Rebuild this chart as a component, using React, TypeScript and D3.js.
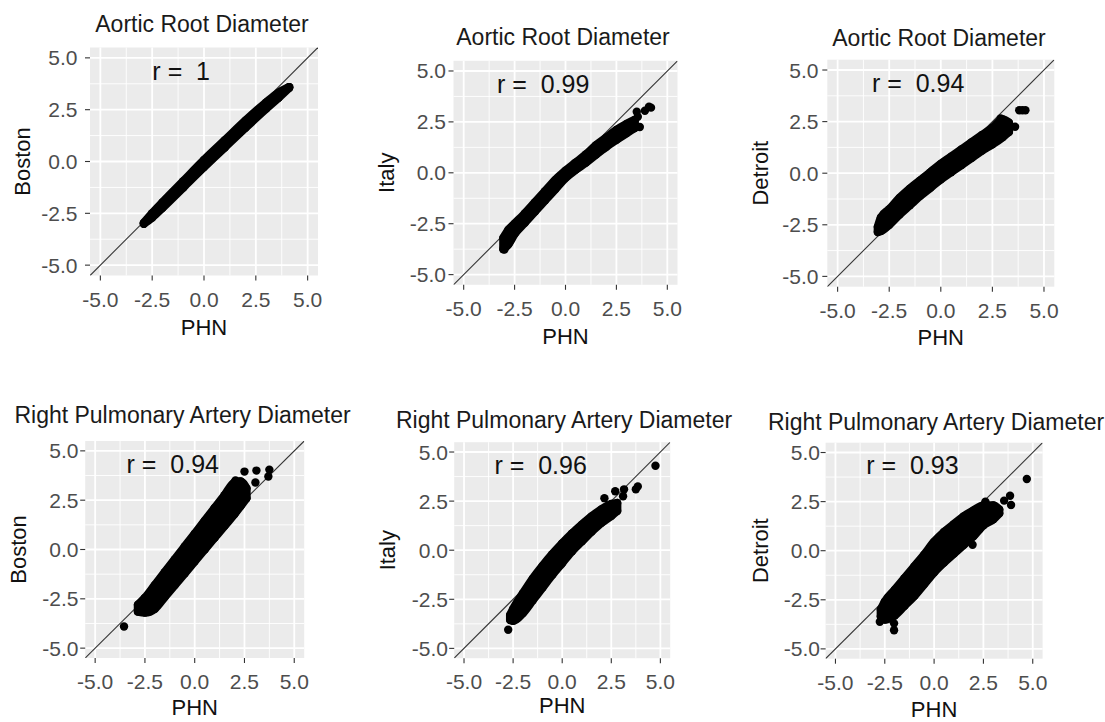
import React from 'react';
import * as d3 from 'd3';

// ---- chart values ----
const panelTitles = [
  'Aortic Root Diameter', 'Aortic Root Diameter', 'Aortic Root Diameter',
  'Right Pulmonary Artery Diameter', 'Right Pulmonary Artery Diameter', 'Right Pulmonary Artery Diameter',
];
const yTitles = ['Boston', 'Italy', 'Detroit', 'Boston', 'Italy', 'Detroit'];
const xTitle = 'PHN';
const rValues = ['1', '0.99', '0.94', '0.94', '0.96', '0.93'];
const majorTicks = [-5, -2.5, 0, 2.5, 5];
const minorTicks = [-3.75, -1.25, 1.25, 3.75];
const tickLabels = ['-5.0', '-2.5', '0.0', '2.5', '5.0'];

// dense part of each cloud: [PHN, lowest point, highest point]
const aorticBostonBand = [
  [-2.9, -3.0, -2.96], [-2.5, -2.7, -2.5], [-2, -2.23, -1.97], [-1, -1.25, -0.95], [0, -0.27, 0.07],
  [1, 0.68, 1.02], [2, 1.63, 1.97], [3, 2.55, 2.85], [3.6, 3.08, 3.32], [4.1, 3.55, 3.59],
];
const aorticItalyBand = [
  [-3.05, -3.75, -3.2], [-2.8, -3.5, -2.8], [-2.5, -3.0, -2.5], [-2, -2.45, -2.0], [-1.5, -1.9, -1.45],
  [-1, -1.35, -0.9], [-0.5, -0.8, -0.35], [0, -0.25, 0.1], [0.5, 0.15, 0.5], [1, 0.5, 0.9],
  [1.5, 0.9, 1.35], [2, 1.28, 1.72], [2.5, 1.62, 2.1], [3, 1.95, 2.4], [3.4, 2.2, 2.6],
];
const aorticDetroitBand = [
  [-3.05, -2.85, -2.6], [-2.9, -2.8, -2.15], [-2.5, -2.5, -1.75], [-2, -2.0, -1.2], [-1.5, -1.55, -0.75],
  [-1, -1.1, -0.35], [-0.5, -0.7, 0.05], [0, -0.3, 0.45], [0.5, 0.05, 0.8], [1, 0.4, 1.15],
  [1.5, 0.75, 1.5], [2, 1.1, 1.85], [2.5, 1.4, 2.2], [3, 1.75, 2.6], [3.3, 2.0, 2.45],
];
const rpaBostonBand = [
  [-2.85, -3.15, -2.8], [-2.5, -3.2, -2.45], [-2, -3.0, -1.8], [-1.5, -2.4, -1.15], [-1, -1.8, -0.5],
  [-0.5, -1.2, 0.15], [0, -0.6, 0.8], [0.5, 0.0, 1.45], [1, 0.6, 2.1], [1.5, 1.2, 2.75],
  [2, 1.8, 3.4], [2.3, 2.2, 3.45], [2.6, 2.6, 3.1],
];
const rpaItalyBand = [
  [-2.65, -3.55, -3.3], [-2.5, -3.6, -3.0], [-2, -3.2, -2.2], [-1.5, -2.55, -1.45], [-1, -1.9, -0.8],
  [-0.5, -1.25, -0.2], [0, -0.65, 0.35], [0.5, -0.05, 0.85], [1, 0.45, 1.3], [1.5, 0.95, 1.72],
  [2, 1.4, 2.08], [2.5, 1.75, 2.35], [2.8, 2.0, 2.4],
];
const rpaDetroitBand = [
  [-2.7, -3.35, -3.0], [-2.5, -3.5, -2.6], [-2, -3.3, -2.0], [-1.5, -2.8, -1.4], [-1, -2.3, -0.8],
  [-0.5, -1.7, -0.2], [0, -1.1, 0.45], [0.5, -0.6, 0.95], [1, -0.15, 1.35], [1.5, 0.3, 1.75],
  [2, 0.75, 2.05], [2.5, 1.3, 2.3], [3, 1.6, 2.3], [3.3, 1.9, 2.1],
];

// single points standing apart from the clouds: [PHN, site]
const aorticBostonPoints = [[-2.9, -3.0], [4.12, 3.58]];
const aorticItalyPoints = [[-3.0, -3.77], [3.5, 3.0], [3.55, 2.75], [3.65, 2.25], [3.9, 3.05], [4.1, 3.25], [4.2, 3.2]];
const aorticDetroitPoints = [[-3.0, -2.8], [2.9, 2.65], [3.6, 2.25], [3.8, 3.05], [3.95, 3.05], [4.1, 3.05]];
const rpaBostonPoints = [[-3.55, -3.9], [2.05, 3.5], [2.5, 3.95], [3.05, 3.4], [3.1, 4.0], [3.7, 3.7], [3.75, 4.05]];
const rpaItalyPoints = [[-2.75, -4.05], [2.15, 2.65], [2.7, 3.0], [3.1, 2.75], [3.15, 3.1], [3.75, 3.1], [3.85, 3.25], [4.75, 4.3]];
const rpaDetroitPoints = [
  [-2.75, -3.62], [-2.03, -4.05], [-2.03, -3.7], [1.95, 0.3], [2.6, 2.5], [3.55, 2.55], [3.85, 2.8], [3.9, 2.33], [4.7, 3.65],
];

const bands = [aorticBostonBand, aorticItalyBand, aorticDetroitBand, rpaBostonBand, rpaItalyBand, rpaDetroitBand];
const points = [aorticBostonPoints, aorticItalyPoints, aorticDetroitPoints, rpaBostonPoints, rpaItalyPoints, rpaDetroitPoints];

// ---- layout (pixels) ----
const layout = [
  { left: 90, top: 47.5, w: 228, h: 228, titleX: 202, titleY: 31.5, yTitleX: 22, xTitleY: 335, yLabX: 77.5 },
  { left: 453.5, top: 60.8, w: 224, h: 224, titleX: 563, titleY: 44.5, yTitleX: 386, xTitleY: 344, yLabX: 446 },
  { left: 827.3, top: 59.7, w: 227, h: 227, titleX: 939, titleY: 46, yTitleX: 760, xTitleY: 345, yLabX: 818.5 },
  { left: 85.2, top: 441, w: 219, h: 217, titleX: 182.5, titleY: 423, yTitleX: 18, xTitleY: 715, yLabX: 78.5 },
  { left: 454.2, top: 442.2, w: 216, h: 216, titleX: 564, titleY: 428, yTitleX: 387, xTitleY: 713, yLabX: 448 },
  { left: 825.6, top: 442.7, w: 217, h: 216, titleX: 936, titleY: 430, yTitleX: 760, xTitleY: 717, yLabX: 820 },
];

const FONT = '"Liberation Sans", Arial, Helvetica, sans-serif';
const DOMAIN: [number, number] = [-5.5, 5.5];

function Panel({ i }: { i: number }) {
  const L = layout[i];
  const x = d3.scaleLinear().domain(DOMAIN).range([L.left, L.left + L.w]);
  const y = d3.scaleLinear().domain(DOMAIN).range([L.top + L.h, L.top]);
  const bottom = L.top + L.h;
  const clipId = `clip-${i}`;

  const area = d3.area<number[]>()
    .x(d => x(d[0]))
    .y0(d => y(d[1]))
    .y1(d => y(d[2]))
    .curve(d3.curveMonotoneX);

  return (
    <g>
      <defs>
        <clipPath id={clipId}>
          <rect x={L.left} y={L.top} width={L.w} height={L.h} />
        </clipPath>
      </defs>
      <rect x={L.left} y={L.top} width={L.w} height={L.h} fill="#EBEBEB" />
      {minorTicks.map(t => (
        <g key={'mi' + t}>
          <line x1={x(t)} x2={x(t)} y1={L.top} y2={bottom} stroke="#fff" strokeWidth={0.9} />
          <line x1={L.left} x2={L.left + L.w} y1={y(t)} y2={y(t)} stroke="#fff" strokeWidth={0.9} />
        </g>
      ))}
      {majorTicks.map(t => (
        <g key={'ma' + t}>
          <line x1={x(t)} x2={x(t)} y1={L.top} y2={bottom} stroke="#fff" strokeWidth={1.8} />
          <line x1={L.left} x2={L.left + L.w} y1={y(t)} y2={y(t)} stroke="#fff" strokeWidth={1.8} />
        </g>
      ))}
      <g clipPath={`url(#${clipId})`}>
        <line x1={x(DOMAIN[0])} y1={y(DOMAIN[0])} x2={x(DOMAIN[1])} y2={y(DOMAIN[1])} stroke="#333" strokeWidth={1.1} />
        <path d={area(bands[i]) || ''} fill="#000" stroke="#000" strokeWidth={8.4} strokeLinejoin="round" />
        {bands[i].map((d, k) => (
          <g key={'b' + k}>
            <circle cx={x(d[0])} cy={y(d[1])} r={4.2} fill="#000" />
            <circle cx={x(d[0])} cy={y(d[2])} r={4.2} fill="#000" />
          </g>
        ))}
        {points[i].map((d, k) => (
          <circle key={'p' + k} cx={x(d[0])} cy={y(d[1])} r={4.2} fill="#000" />
        ))}
      </g>
      {majorTicks.map((t, k) => (
        <g key={'t' + t}>
          <line x1={x(t)} x2={x(t)} y1={bottom} y2={bottom + 5} stroke="#333" strokeWidth={1.1} />
          <text x={x(t)} y={bottom + 31} textAnchor="middle" fontSize={21} fill="#4D4D4D" fontFamily={FONT}>{tickLabels[k]}</text>
          <line x1={L.left - 5} x2={L.left} y1={y(t)} y2={y(t)} stroke="#333" strokeWidth={1.1} />
          <text x={L.yLabX} y={y(t)} textAnchor="end" dominantBaseline="central" fontSize={21} fill="#4D4D4D" fontFamily={FONT}>{tickLabels[k]}</text>
        </g>
      ))}
      <text x={x(-1.1)} y={y(4.35)} textAnchor="middle" dominantBaseline="central" fontSize={25} fill="#111" fontFamily={FONT} style={{ whiteSpace: 'pre' }}>
        {`r =  ${rValues[i]}`}
      </text>
      <text x={L.titleX} y={L.titleY} textAnchor="middle" fontSize={23} fill="#1a1a1a" fontFamily={FONT}>{panelTitles[i]}</text>
      <text x={L.left + L.w / 2} y={L.xTitleY} textAnchor="middle" fontSize={22} fill="#111" fontFamily={FONT}>{xTitle}</text>
      <text transform={`translate(${L.yTitleX},${L.top + L.h / 2}) rotate(-90)`} textAnchor="middle" dominantBaseline="central" fontSize={22} fill="#111" fontFamily={FONT}>{yTitles[i]}</text>
    </g>
  );
}

export default function App() {
  return (
    <svg width={1105} height={722} style={{ position: 'absolute', left: 0, top: 0, background: '#fff' }}>
      <rect x={0} y={0} width={1105} height={722} fill="#fff" />
      {layout.map((_, i) => <Panel key={i} i={i} />)}
    </svg>
  );
}
